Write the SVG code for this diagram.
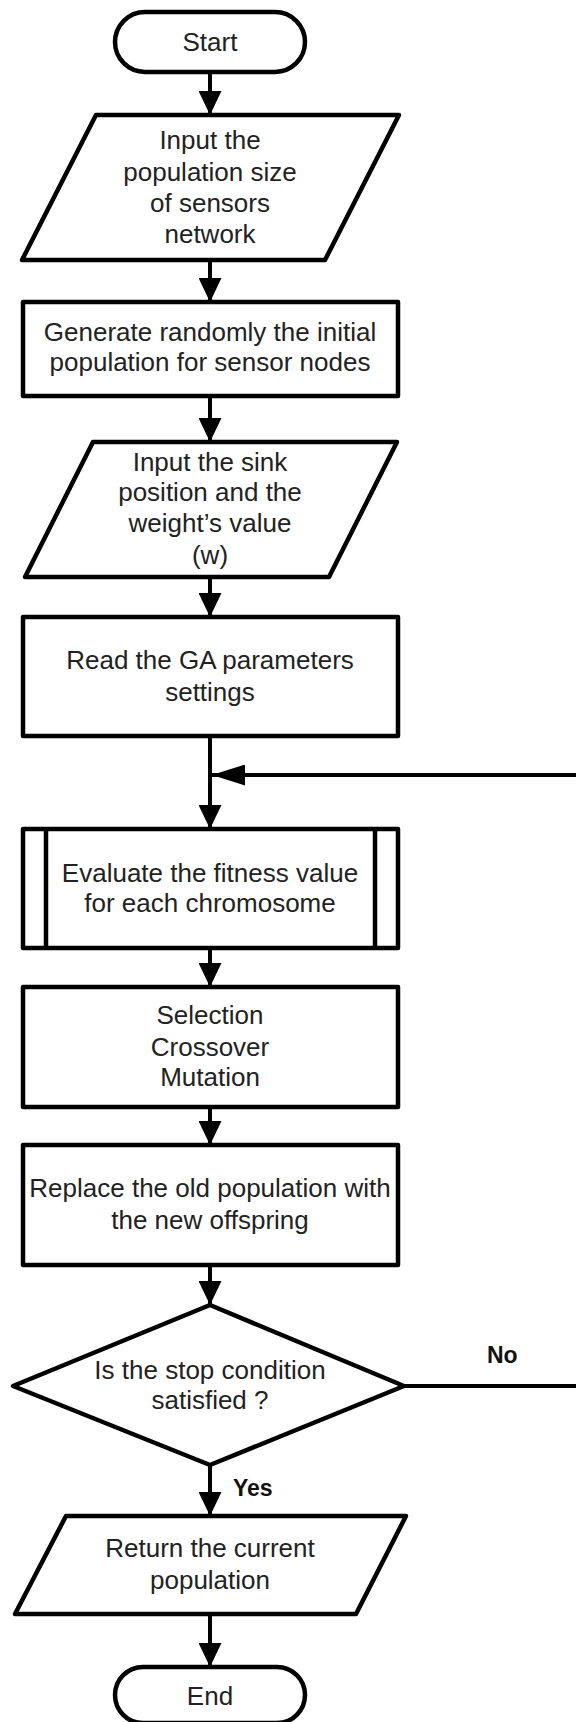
<svg xmlns="http://www.w3.org/2000/svg" width="576" height="1722" viewBox="0 0 576 1722">
<style>
.n{fill:#fff;stroke:#000;stroke-width:4.5;stroke-linejoin:round}
.t{font-family:"Liberation Sans",Arial,sans-serif;font-size:26px;fill:#222;text-anchor:middle}
.b{font-family:"Liberation Sans",Arial,sans-serif;font-size:23px;font-weight:bold;fill:#111}
.c{fill:none;stroke:#000;stroke-width:4}
</style>
<defs>
<marker id="ad" markerUnits="userSpaceOnUse" markerWidth="24" markerHeight="23" refX="24" refY="11.5" orient="auto">
<path d="M0,0 L24,11.5 L0,23 z" fill="#000"/>
</marker>
<marker id="am" markerUnits="userSpaceOnUse" markerWidth="33" markerHeight="21" refX="33" refY="10.5" orient="auto">
<path d="M0,0 L33,10.5 L0,21 z" fill="#000"/>
</marker>
</defs>
<rect width="576" height="1722" fill="#fff"/>
<g id="connectors">
<path class="c" d="M210,72 V115" marker-end="url(#ad)"/>
<path class="c" d="M210,260 V302" marker-end="url(#ad)"/>
<path class="c" d="M210,396 V442" marker-end="url(#ad)"/>
<path class="c" d="M210,577 V617" marker-end="url(#ad)"/>
<path class="c" d="M210,736 V829" marker-end="url(#ad)"/>
<path class="c" d="M404,1386 H582 V775 H212" marker-end="url(#am)"/>
<path class="c" d="M210,948 V987" marker-end="url(#ad)"/>
<path class="c" d="M210,1107 V1145" marker-end="url(#ad)"/>
<path class="c" d="M210,1265 V1305" marker-end="url(#ad)"/>
<path class="c" d="M210,1465 V1516" marker-end="url(#ad)"/>
<path class="c" d="M210,1614 V1667" marker-end="url(#ad)"/>
<text class="b" x="487" y="1363">No</text>
<text class="b" x="233" y="1496">Yes</text>
</g>
<g id="start">
<rect class="n" x="115" y="12" width="190" height="60" rx="30"/>
<text class="t" x="210" y="51">Start</text>
</g>
<g id="input-population">
<polygon class="n" points="96,115 399,115 325,260 22,260"/>
<text class="t" x="210" y="149">Input the</text>
<text class="t" x="210" y="181">population size</text>
<text class="t" x="210" y="212">of sensors</text>
<text class="t" x="210" y="243">network</text>
</g>
<g id="generate">
<rect class="n" x="23" y="302" width="375" height="94"/>
<text class="t" x="210" y="341">Generate randomly the initial</text>
<text class="t" x="210" y="371">population for sensor nodes</text>
</g>
<g id="input-sink">
<polygon class="n" points="93,442 397,442 329,577 25,577"/>
<text class="t" x="210" y="471">Input the sink</text>
<text class="t" x="210" y="501">position and the</text>
<text class="t" x="210" y="532">weight’s value</text>
<text class="t" x="210" y="564">(w)</text>
</g>
<g id="read-ga">
<rect class="n" x="23" y="617" width="375" height="119"/>
<text class="t" x="210" y="669">Read the GA parameters</text>
<text class="t" x="210" y="701">settings</text>
</g>
<g id="evaluate">
<rect class="n" x="23" y="829" width="375" height="119"/>
<line class="n" x1="46" y1="829" x2="46" y2="948"/>
<line class="n" x1="375" y1="829" x2="375" y2="948"/>
<text class="t" x="210" y="882">Evaluate the fitness value</text>
<text class="t" x="210" y="912">for each chromosome</text>
</g>
<g id="operators">
<rect class="n" x="23" y="987" width="375" height="120"/>
<text class="t" x="210" y="1024">Selection</text>
<text class="t" x="210" y="1056">Crossover</text>
<text class="t" x="210" y="1086">Mutation</text>
</g>
<g id="replace">
<rect class="n" x="23" y="1145" width="375" height="120"/>
<text class="t" x="210" y="1197">Replace the old population with</text>
<text class="t" x="210" y="1229">the new offspring</text>
</g>
<g id="decision">
<polygon class="n" points="210,1305 404,1386 210,1465 13,1386"/>
<text class="t" x="210" y="1379">Is the stop condition</text>
<text class="t" x="210" y="1409">satisfied ?</text>
</g>
<g id="return">
<polygon class="n" points="66,1516 406,1516 356,1614 15,1614"/>
<text class="t" x="210" y="1557">Return the current</text>
<text class="t" x="210" y="1589">population</text>
</g>
<g id="end">
<rect class="n" x="115" y="1667" width="190" height="56" rx="28"/>
<text class="t" x="210" y="1705">End</text>
</g>
</svg>
